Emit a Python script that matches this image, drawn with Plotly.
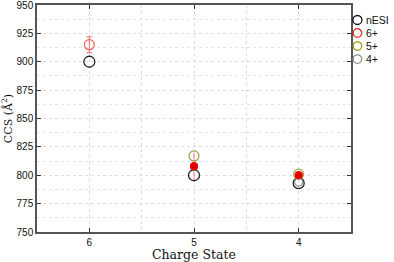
import plotly.graph_objects as go

charge = [6, 5, 4]
nesi = [900, 800, 793]
z6_x = [6]
z6 = [915]
z6_err = [7]
z5_x = [5, 4]
z5 = [817, 801]
z4_x = [4]
z4 = [794]
red_fill_x = [5, 4]
red_fill = [808, 800]
red_fill_err = [12, 1]

legend_names = ["nESI", "6+", "5+", "4+"]
legend_colors = ["#111111", "#f02020", "#9a9a20", "#909090"]

fig = go.Figure()
fig.add_trace(go.Scatter(x=red_fill_x, y=red_fill, mode="markers", showlegend=False,
    error_y=dict(type="data", array=red_fill_err, color="#f08080", thickness=1, width=0),
    marker=dict(size=8, color="#ff0000", line=dict(width=0))))
fig.add_trace(go.Scatter(x=charge, y=nesi, mode="markers", name="nESI", showlegend=False,
    marker=dict(symbol="circle-open", size=11, color="#222222", line=dict(width=1.3))))
fig.add_trace(go.Scatter(x=z6_x, y=z6, mode="markers", name="6+", showlegend=False,
    error_y=dict(type="data", array=z6_err, color="#f07070", thickness=1, width=3),
    marker=dict(symbol="circle-open", size=10, color="#f06060", line=dict(width=1.2))))
fig.add_trace(go.Scatter(x=z5_x, y=z5, mode="markers", name="5+", showlegend=False,
    marker=dict(symbol="circle-open", size=10, color="#a0a040", line=dict(width=1.2))))
fig.add_trace(go.Scatter(x=z4_x, y=z4, mode="markers", name="4+", showlegend=False,
    marker=dict(symbol="circle-open", size=8, color="#909090", line=dict(width=1.2))))
fig.add_trace(go.Scatter(x=red_fill_x, y=red_fill, mode="markers", showlegend=False,
    marker=dict(size=8, color="#ff0000", line=dict(width=0),
                gradient=dict(type="radial", color="#c00000"))))

# custom compact legend
leg_y = [0.934, 0.877, 0.819, 0.762]
for name, col, yy, d in zip(legend_names, legend_colors, leg_y, [9, 8.5, 8.5, 8.5]):
    fig.add_shape(type="circle", xref="paper", yref="paper",
                  xsizemode="pixel", ysizemode="pixel", xanchor=1.0205, yanchor=yy,
                  x0=-d / 2, x1=d / 2, y0=-d / 2, y1=d / 2,
                  line=dict(color=col, width=1.3), fillcolor="rgba(0,0,0,0)")
    fig.add_annotation(text=name, xref="paper", yref="paper", x=1.040, y=yy,
                       xanchor="left", yanchor="middle", showarrow=False,
                       font=dict(size=10.5, family="Liberation Sans, Arial", color="#111"))

fig.add_annotation(text="Charge State", xref="paper", yref="paper", x=0.5, y=-0.097,
                   xanchor="center", yanchor="middle", showarrow=False,
                   font=dict(size=12.5, family="DejaVu Serif, serif", color="#111"))

fig.update_layout(
    width=394, height=262,
    margin=dict(l=37, r=43, t=5, b=30, autoexpand=False),
    paper_bgcolor="white", plot_bgcolor="white",
    font=dict(family="Liberation Sans, Arial", size=10, color="#111"),
    showlegend=False,
    xaxis=dict(range=[6.5, 3.5], tickvals=[6, 5, 4], ticktext=["6", "5", "4"],
               ticks="inside", ticklen=4, tickcolor="#333", mirror="ticks",
               showline=True, linecolor="#555", linewidth=1.5,
               showgrid=True, gridcolor="#dddddd", griddash="dot", gridwidth=1,
               minor=dict(dtick=0.5, showgrid=True, gridcolor="#dddddd", griddash="dot", tick0=3.5),
               zeroline=False, ticklabeloverflow="allow"),
    yaxis=dict(range=[750, 950], tickvals=[750, 775, 800, 825, 850, 875, 900, 925, 950],
               ticks="inside", ticklen=4, tickcolor="#333", mirror="ticks",
               showline=True, linecolor="#555", linewidth=1.5,
               showgrid=True, gridcolor="#dddddd", griddash="dot", gridwidth=1,
               minor=dict(dtick=12.5, tick0=750, showgrid=True, gridcolor="#e4e4e4", griddash="dot"),
               zeroline=False, ticklabeloverflow="allow",
               title=dict(text="CCS (Å<sup>2</sup>)", font=dict(family="DejaVu Serif, serif", size=11), standoff=2)),
)
fig.write_html("out.html", config={"displayModeBar": False},
               post_script="document.body.style.margin='0';")
